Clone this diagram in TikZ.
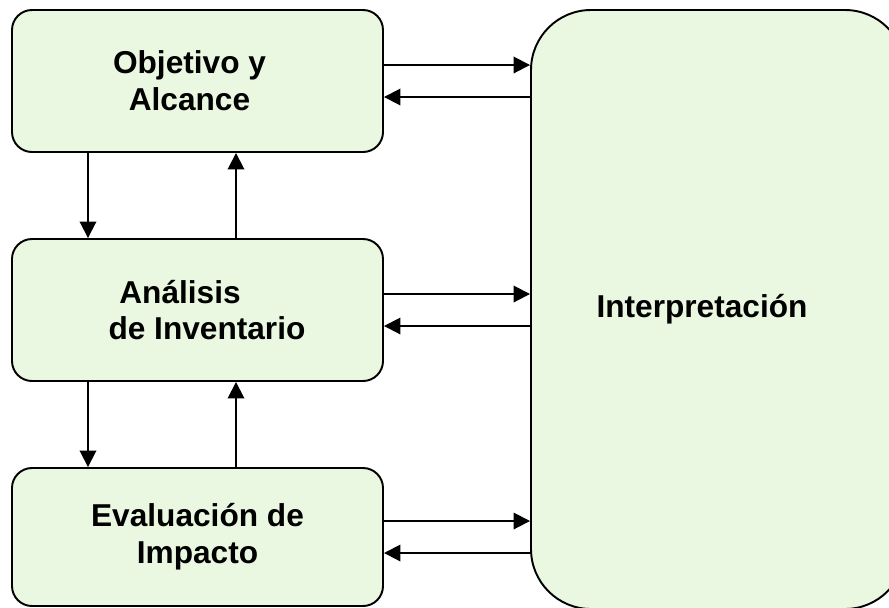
\documentclass[tikz,border=0pt]{standalone}
\usepackage{fontspec}
\setmainfont{Liberation Sans}
\usepackage{xcolor}
\usepackage{tikz}
\usetikzlibrary{
		arrows.meta,
		calc,
		positioning
	}
\definecolor{phase-green}{HTML}{EBF8E1}
\tikzset{%
		every text node part/.style = {
			align = center
		},
		phase/.style = {
			draw,
			rectangle,
			rounded corners = 0.4cm,
			fill = phase-green,
			line width = 1.1pt,
			minimum width = 7.42cm,
			minimum height = 2.84cm,
			font = \fontsize{18}{21}\selectfont\bfseries
		},
		interpbox/.style = {
			phase,
			rounded corners = 1.2cm,
			minimum width = 7.48cm,
			minimum height = 11.98cm
		},
		flow/.style = {
			line width = 1.1pt,
			-{Triangle[length=3.3mm, width=3.3mm]}
		}
	}

\begin{document}
\begin{tikzpicture}
		\useasboundingbox (0, 0) rectangle (17.78, -12.14);
		\clip (0, 0) rectangle (17.78, -12.14);  % big box runs past the page edge

		\node [phase] (objetivo) at (3.95, -1.62) {Objetivo y\hspace*{0.32cm}\\Alcance\hspace*{0.32cm}};
		\node [phase] (inventario) at (3.95, -6.20) {Análisis\hspace*{0.7cm}\\\hspace*{0.38cm}de Inventario};
		\node [phase, minimum height = 2.76cm] (impacto) at (3.95, -10.74) {Evaluación de\\Impacto};
		\node [interpbox] (interp) at (14.36, -6.19) {Interpretación\hspace*{0.64cm}};

		\foreach \phasename in {objetivo, inventario, impacto} {
			\draw [flow] ([yshift=3.2mm]\phasename.east) -- ([yshift=3.2mm]\phasename.east -| interp.west);
			\draw [flow] ([yshift=-3.2mm]\phasename.east -| interp.west) -- ([yshift=-3.2mm]\phasename.east);
		}

		\draw [flow] ([xshift=-21.9mm]objetivo.south) -- ([xshift=-21.9mm]objetivo.south |- inventario.north);
		\draw [flow] ([xshift=7.7mm]inventario.north) -- ([xshift=7.7mm]inventario.north |- objetivo.south);
		\draw [flow] ([xshift=-21.9mm]inventario.south) -- ([xshift=-21.9mm]inventario.south |- impacto.north);
		\draw [flow] ([xshift=7.7mm]impacto.north) -- ([xshift=7.7mm]impacto.north |- inventario.south);
	\end{tikzpicture}
\end{document}
